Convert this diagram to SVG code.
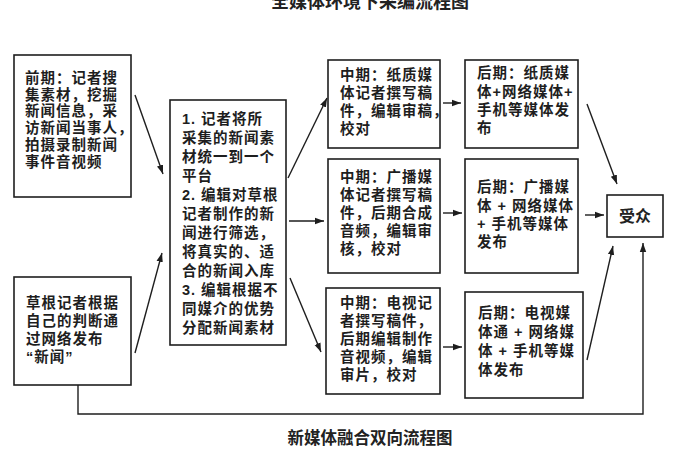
<svg xmlns="http://www.w3.org/2000/svg" width="681" height="449" viewBox="0 0 681 449">
<style>
.box{fill:#fff;stroke:#1e1e1e;stroke-width:1.6}
.t{font-family:"Liberation Sans","Noto Sans CJK SC",sans-serif;font-size:14.5px;font-weight:700;fill:#1e1e1e;letter-spacing:1px;dominant-baseline:central}
.ln{fill:none;stroke:#1e1e1e;stroke-width:1.4}
.cap{font-family:"Liberation Sans","Noto Sans CJK SC",sans-serif;font-size:16px;font-weight:700;fill:#222;text-anchor:middle;dominant-baseline:central}
</style>
<defs>
<marker id="ah" markerUnits="userSpaceOnUse" markerWidth="10" markerHeight="8" refX="9" refY="4" orient="auto">
<path d="M0,0.8 L9,4 L0,7.2 Z" fill="#1e1e1e"/>
</marker>
</defs>
<rect x="0" y="0" width="681" height="449" fill="#fff"/>
<text class="cap" x="370" y="2" fill="#444" style="font-size:18px">全媒体环境下采编流程图</text>

<g id="connectors">
<line class="ln" x1="135" y1="95" x2="163" y2="174" marker-end="url(#ah)"/>
<line class="ln" x1="135" y1="353" x2="162" y2="253" marker-end="url(#ah)"/>
<line class="ln" x1="288" y1="178" x2="327" y2="98" marker-end="url(#ah)"/>
<line class="ln" x1="289" y1="221" x2="324" y2="221" marker-end="url(#ah)"/>
<line class="ln" x1="290" y1="278" x2="321" y2="352" marker-end="url(#ah)"/>
<line class="ln" x1="443" y1="103" x2="461" y2="103" marker-end="url(#ah)"/>
<line class="ln" x1="443" y1="213" x2="462" y2="213" marker-end="url(#ah)"/>
<line class="ln" x1="443" y1="347" x2="462" y2="347" marker-end="url(#ah)"/>
<line class="ln" x1="587" y1="104" x2="617" y2="184" marker-end="url(#ah)"/>
<line class="ln" x1="585" y1="215" x2="604" y2="215" marker-end="url(#ah)"/>
<line class="ln" x1="587" y1="360" x2="613" y2="246" marker-end="url(#ah)"/>
<polyline class="ln" points="78,385 78,414 643,414 643,243" marker-end="url(#ah)"/>
</g>

<g id="n-early">
<rect class="box" x="14" y="55" width="117" height="142"/>
<text class="t"><tspan x="25" y="78">前期：记者搜</tspan><tspan x="25" y="94.7">集素材，挖掘</tspan><tspan x="25" y="111.4">新闻信息，采</tspan><tspan x="25" y="128">访新闻当事人，</tspan><tspan x="25" y="144.8">拍摄录制新闻</tspan><tspan x="25" y="161.5">事件音视频</tspan></text>
</g>

<g id="n-grassroots">
<rect class="box" x="14" y="277" width="117" height="108"/>
<text class="t"><tspan x="26" y="303">草根记者根据</tspan><tspan x="26" y="321">自己的判断通</tspan><tspan x="26" y="339">过网络发布</tspan><tspan x="26" y="357">“新闻”</tspan></text>
</g>

<g id="n-platform">
<rect class="box" x="170" y="100" width="116" height="245"/>
<text class="t"><tspan x="182" y="119">1. 记者将所</tspan><tspan x="182" y="138">采集的新闻素</tspan><tspan x="182" y="157">材统一到一个</tspan><tspan x="182" y="176">平台</tspan><tspan x="182" y="195">2. 编辑对草根</tspan><tspan x="182" y="214">记者制作的新</tspan><tspan x="182" y="233">闻进行筛选，</tspan><tspan x="182" y="252">将真实的、适</tspan><tspan x="182" y="271">合的新闻入库</tspan><tspan x="182" y="290">3. 编辑根据不</tspan><tspan x="182" y="309">同媒介的优势</tspan><tspan x="182" y="328">分配新闻素材</tspan></text>
</g>

<g id="n-mid-paper">
<rect class="box" x="328" y="60" width="112" height="88"/>
<text class="t"><tspan x="340" y="75">中期：纸质媒</tspan><tspan x="340" y="93">体记者撰写稿</tspan><tspan x="340" y="111">件，编辑审稿，</tspan><tspan x="340" y="129">校对</tspan></text>
</g>

<g id="n-mid-radio">
<rect class="box" x="328" y="159" width="112" height="114"/>
<text class="t"><tspan x="340" y="177">中期：广播媒</tspan><tspan x="340" y="195">体记者撰写稿</tspan><tspan x="340" y="213">件，后期合成</tspan><tspan x="340" y="231">音频，编辑审</tspan><tspan x="340" y="249">核，校对</tspan></text>
</g>

<g id="n-mid-tv">
<rect class="box" x="326" y="288" width="114" height="106"/>
<text class="t"><tspan x="340" y="303">中期：电视记</tspan><tspan x="340" y="321">者撰写稿件，</tspan><tspan x="340" y="339">后期编辑制作</tspan><tspan x="340" y="357">音视频，编辑</tspan><tspan x="340" y="375">审片，校对</tspan></text>
</g>

<g id="n-late-paper">
<rect class="box" x="465" y="60" width="113" height="88"/>
<text class="t"><tspan x="477" y="73">后期：纸质媒</tspan><tspan x="477" y="91.5">体+网络媒体+</tspan><tspan x="477" y="110">手机等媒体发</tspan><tspan x="477" y="128">布</tspan></text>
</g>

<g id="n-late-radio">
<rect class="box" x="465" y="159" width="113" height="114"/>
<text class="t"><tspan x="477" y="187">后期：广播媒</tspan><tspan x="477" y="205.5">体 + 网络媒体</tspan><tspan x="477" y="224">+ 手机等媒体</tspan><tspan x="477" y="242">发布</tspan></text>
</g>

<g id="n-late-tv">
<rect class="box" x="465" y="292" width="118" height="106"/>
<text class="t"><tspan x="478" y="313">后期：电视媒</tspan><tspan x="478" y="332">体通 + 网络媒</tspan><tspan x="478" y="351">体 + 手机等媒</tspan><tspan x="478" y="370">体发布</tspan></text>
</g>

<g id="n-audience">
<rect class="box" x="607" y="195" width="56" height="42"/>
<text class="cap" x="635" y="216">受众</text>
</g>

<text class="cap" x="370" y="438" style="font-size:16.5px">新媒体融合双向流程图</text>
</svg>
